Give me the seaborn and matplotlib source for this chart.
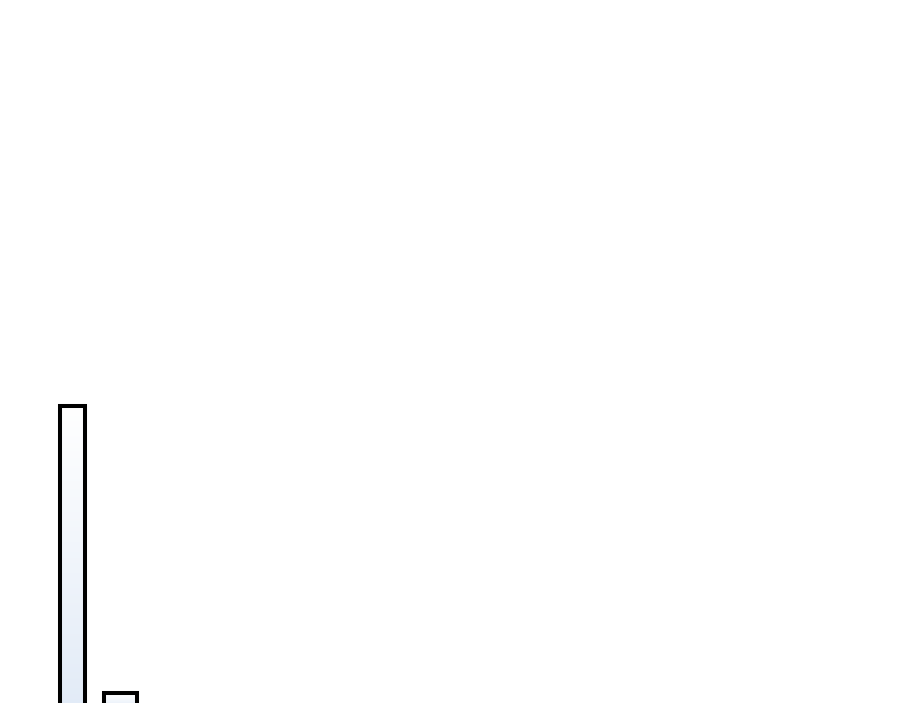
import matplotlib
matplotlib.use('Agg')
import matplotlib.pyplot as plt
import seaborn as sns
import pandas as pd
import numpy as np
from matplotlib.colors import LinearSegmentedColormap

categories = ["A", "B"]
values = [90, 5]

df = pd.DataFrame({"category": categories, "value": values})

sns.set_style("white")
fig = plt.figure(figsize=(9, 7.03), dpi=100)
# axes runs a little below the image so the bars are cut at the bottom
ax = fig.add_axes([0, -7 / 703, 1, 710 / 703])

sns.barplot(data=df, x="category", y="value", ax=ax, color="white",
            edgecolor="black", linewidth=2.9, width=0.6)

xmin = -72.5 / 47.5
xmax = xmin + 900 / 47.5
ax.axis("off")

# bar widths differ in the original
widths = [25 / 47.5, 33 / 47.5]
cmap = LinearSegmentedColormap.from_list("fade", ["#e2ebf7", "#ffffff"])
grad = np.linspace(0, 1, 256).reshape(-1, 1)
for patch, w in zip(ax.patches, widths):
    cx = patch.get_x() + patch.get_width() / 2
    h = patch.get_height()
    patch.set_x(cx - w / 2)
    patch.set_width(w)
    patch.set_facecolor("none")
    patch.set_zorder(3)
    im = ax.imshow(grad, cmap=cmap, aspect="auto", origin="lower",
                   extent=[cx - w / 2, cx + w / 2, 0, h], zorder=2)
    im.set_clip_path(patch)

ax.set_xlim(xmin, xmax)
ax.set_ylim(0, 210)

fig.savefig("out.png", dpi=100)
plt.close(fig)
